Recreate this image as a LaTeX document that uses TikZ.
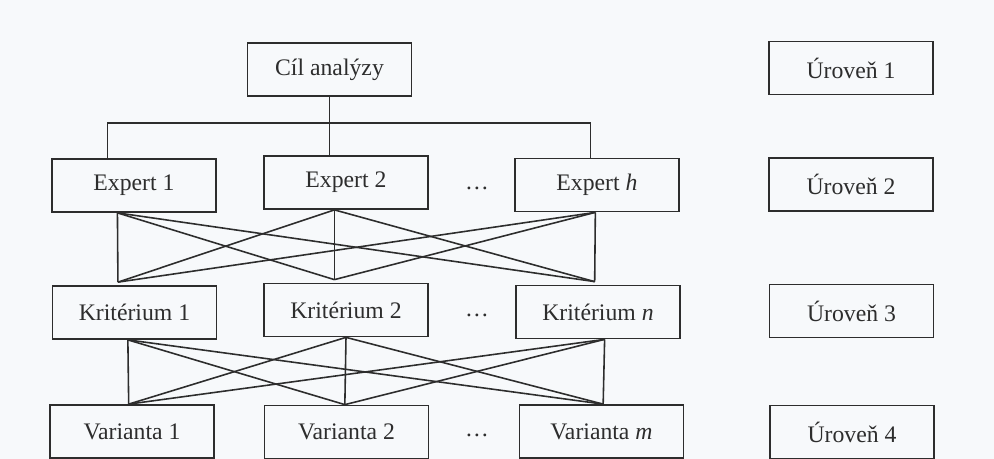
\documentclass[tikz,border=0pt]{standalone}
\usepackage{fontspec}
\setmainfont{Liberation Serif}
\usetikzlibrary{positioning,calc}
\definecolor{ink}{RGB}{45,45,45}
\definecolor{paper}{RGB}{247,249,251}

\begin{document}
\begin{tikzpicture}[x=0.02cm, y=-0.02cm,
    box/.style={draw=ink, line width=1pt, minimum width=3.28cm, minimum height=1.06cm,
        inner sep=0pt, text=ink, font=\fontsize{13.5}{16}\selectfont},
    dotsnode/.style={text=ink, font=\fontsize{13.5}{16}\selectfont},
    link/.style={draw=ink, line width=0.9pt}]
    \fill[paper] (0,0) rectangle (994,459);
    \useasboundingbox (0,0) rectangle (994,459);
    % level 1: goal
    \node[box] (goal) at (329.5,69.5) {Cíl analýzy};
    \node[box] (l1) at (851,68) {Úroveň 1};
    % level 2: experts
    \node[box] (e1) at (134,185.5) {Expert 1};
    \node[box] (e2) at (346,182.5) {Expert 2};
    \node[dotsnode] (d1) at (477,188) {\dots};
    \node[box] (eh) at (597,185) {Expert \textit{h}};
    \node[box] (l2) at (851,184.5) {Úroveň 2};
    % level 3: criteria
    \node[box] (k1) at (134.5,312.5) {Kritérium 1};
    \node[box] (k2) at (346,310) {Kritérium 2};
    \node[dotsnode] (d2) at (477,315) {\dots};
    \node[box] (kn) at (598,312) {Kritérium \textit{n}};
    \node[box] (l3) at (851.5,311) {Úroveň 3};
    % level 4: variants
    \node[box] (v1) at (132,431.5) {Varianta 1};
    \node[box] (v2) at (346.5,432) {Varianta 2};
    \node[dotsnode] (d3) at (477,435) {\dots};
    \node[box] (vm) at (601.5,431.5) {Varianta \textit{m}};
    \node[box] (l4) at (852,432) {Úroveň 4};

    % tree from the goal
    \coordinate (bus) at (0,123);
    \coordinate (e1t) at ($(e1.north west)!0.34!(e1.north east)$);
    \coordinate (eht) at ($(eh.north west)!0.46!(eh.north east)$);
    \draw[link] (goal.south) -- (goal.south |- e2.north);
    \draw[link] (e1t) -- (e1t |- bus) -- (eht |- bus) -- (eht);

    % experts to criteria
    \foreach \n/\f in {e1/0.40, e2/0.43, eh/0.49}
        \coordinate (\n-b) at ($(\n.south west)!\f!(\n.south east)$);
    \foreach \n/\f in {k1/0.40, k2/0.43, kn/0.48}
        \coordinate (\n-t) at ($(\n.north west)!\f!(\n.north east)+(0,-3)$);
    \foreach \a in {e1,e2,eh}
        \foreach \b in {k1,k2,kn}
            \draw[link] (\a-b) -- (\b-t);

    % criteria to variants
    \foreach \n/\f in {k1/0.46, k2/0.50, kn/0.54}
        \coordinate (\n-b) at ($(\n.south west)!\f!(\n.south east)$);
    \foreach \n/\f in {v1/0.48, v2/0.49, vm/0.51}
        \coordinate (\n-t) at ($(\n.north west)!\f!(\n.north east)$);
    \foreach \a in {k1,k2,kn}
        \foreach \b in {v1,v2,vm}
            \draw[link] (\a-b) -- (\b-t);
\end{tikzpicture}
\end{document}
